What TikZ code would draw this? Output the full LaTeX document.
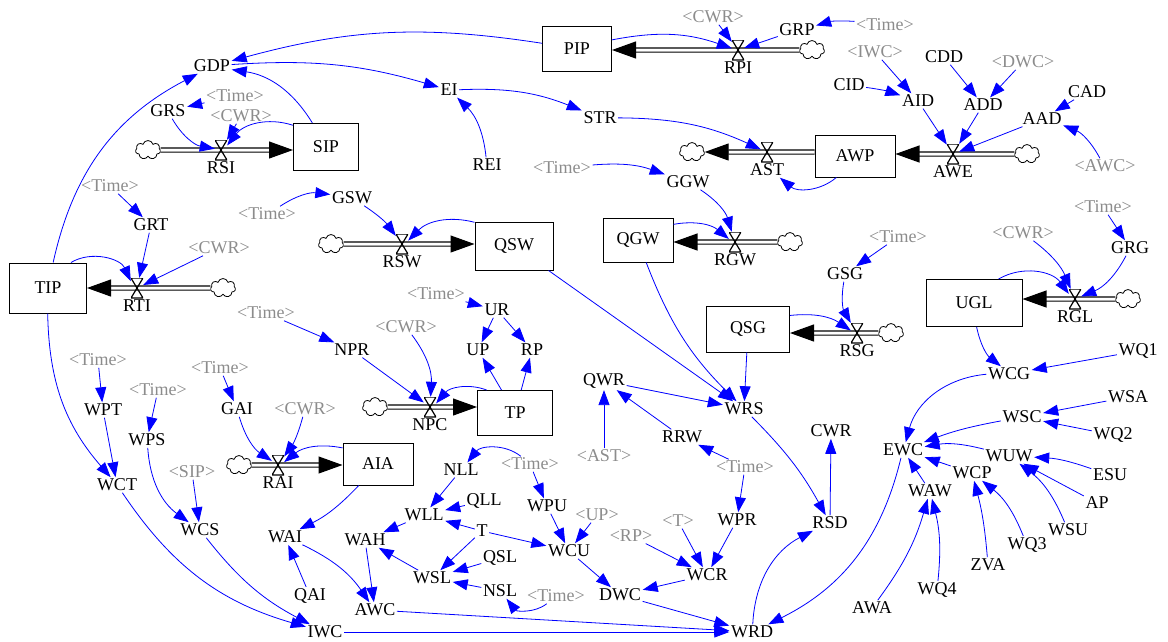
\documentclass[tikz,border=0pt]{standalone}
\usepackage{fontspec}
\setmainfont{Liberation Serif}
\usetikzlibrary{arrows.meta,shapes.symbols,positioning}

\begin{document}
\begin{tikzpicture}[x=1pt,y=1pt,
    font=\fontsize{18}{20}\selectfont,
    var/.style={inner sep=1.5pt},
    shadow/.style={inner sep=1.5pt, text=black!45},
    stock/.style={draw, line width=1pt, inner sep=0pt},
    cloudy/.style={cloud, draw, cloud puffs=7, aspect=1.3, minimum width=25pt, minimum height=19pt, inner sep=0pt, line width=0.8pt},
    valve/.style={inner sep=0pt, minimum width=12pt, minimum height=20pt,
      path picture={\draw[line width=1.2pt] (path picture bounding box.north west) -- (path picture bounding box.north east)
        -- (path picture bounding box.south west) -- (path picture bounding box.south east) -- cycle;}},
    pipe/.style={draw, line width=1.1pt, double=white, double distance=3pt, -{Triangle[length=24pt,width=17pt]}},
    link/.style={draw=blue, line width=0.8pt, -{Triangle[length=15pt,width=11pt]}}]

\useasboundingbox (0,0) rectangle (1168,-641);

% stocks
\node[stock, minimum width=69pt, minimum height=45pt] (pip) at (577,-49) {PIP};
\node[stock, minimum width=65pt, minimum height=47pt] (sip) at (326,-147) {SIP};
\node[stock, minimum width=80pt, minimum height=42pt] (awp) at (855,-156) {AWP};
\node[stock, minimum width=77pt, minimum height=50pt] (tip) at (48,-288) {TIP};
\node[stock, minimum width=78pt, minimum height=48pt] (qsw) at (514,-246) {QSW};
\node[stock, minimum width=70pt, minimum height=44pt] (qgw) at (638,-240) {QGW};
\node[stock, minimum width=83pt, minimum height=46pt] (qsg) at (748,-329) {QSG};
\node[stock, minimum width=96pt, minimum height=47pt] (ugl) at (974,-303) {UGL};
\node[stock, minimum width=75pt, minimum height=45pt] (tp) at (515,-413) {TP};
\node[stock, minimum width=70pt, minimum height=42pt] (aia) at (378,-464) {AIA};

% clouds
\node[cloudy] (cpip) at (812,-50) {};
\node[cloudy] (csip) at (148,-150) {};
\node[cloudy] (cast) at (692,-152) {};
\node[cloudy] (cawe) at (1027,-154) {};
\node[cloudy] (ctip) at (223,-288) {};
\node[cloudy] (cqsw) at (331,-244) {};
\node[cloudy] (cqgw) at (790,-242) {};
\node[cloudy] (cqsg) at (891,-333) {};
\node[cloudy] (cugl) at (1128,-299) {};
\node[cloudy] (caia) at (239,-465) {};
\node[cloudy] (ctp) at (375,-407) {};

% pipes
\draw[pipe] (cpip) -- (cpip -| pip.east);
\draw[pipe] (csip) -- (csip -| sip.west);
\draw[pipe] (cast -| awp.west) -- (cast);
\draw[pipe] (cawe) -- (cawe -| awp.east);
\draw[pipe] (ctip) -- (ctip -| tip.east);
\draw[pipe] (cqsw) -- (cqsw -| qsw.west);
\draw[pipe] (cqgw) -- (cqgw -| qgw.east);
\draw[pipe] (cqsg) -- (cqsg -| qsg.east);
\draw[pipe] (cugl) -- (cugl -| ugl.east);
\draw[pipe] (caia) -- (caia -| aia.west);
\draw[pipe] (ctp) -- (ctp -| tp.west);

% valves
\node[valve] (rpi) at (738,-50) {};
\node[valve] (rsi) at (221,-150) {};
\node[valve] (ast) at (767,-152) {};
\node[valve] (awe) at (953,-154) {};
\node[valve] (rti) at (137,-288) {};
\node[valve] (rsw) at (402,-244) {};
\node[valve] (rgw) at (735,-242) {};
\node[valve] (rsg) at (857,-333) {};
\node[valve] (rgl) at (1075,-299) {};
\node[valve] (rai) at (278,-465) {};
\node[valve] (npc) at (430,-407) {};
\node[var, below=0pt of rpi] (rpi-l) {RPI};
\node[var, below=0pt of rsi] (rsi-l) {RSI};
\node[var, below=0pt of ast] (ast-l) {AST};
\node[var, below=0pt of awe] (awe-l) {AWE};
\node[var, below=0pt of rti] (rti-l) {RTI};
\node[var, below=0pt of rsw] (rsw-l) {RSW};
\node[var, below=0pt of rgw] (rgw-l) {RGW};
\node[var, below=0pt of rsg] (rsg-l) {RSG};
\node[var, below=0pt of rgl] (rgl-l) {RGL};
\node[var, below=0pt of rai] (rai-l) {RAI};
\node[var, below=0pt of npc] (npc-l) {NPC};

% variables
\node[var] (gdp) at (212,-66) {GDP};
\node[var] (grs) at (168,-111) {GRS};
\node[shadow] (timeA) at (235,-96) {<Time>};
\node[shadow] (cwrA) at (241,-116) {<CWR>};
\node[var] (ei) at (449,-90) {EI};
\node[var] (rei) at (487,-165) {REI};
\node[var] (str) at (600,-118) {STR};
\node[shadow] (cwrB) at (713,-17) {<CWR>};
\node[var] (grp) at (797,-30) {GRP};
\node[shadow] (timeB) at (885,-25) {<Time>};
\node[var] (cid) at (849,-85) {CID};
\node[shadow] (iwcA) at (875,-52) {<IWC>};
\node[var] (aid) at (918,-101) {AID};
\node[var] (cdd) at (944,-57) {CDD};
\node[shadow] (dwcA) at (1023,-62) {<DWC>};
\node[var] (add) at (983,-105) {ADD};
\node[var] (cad) at (1087,-92) {CAD};
\node[var] (aad) at (1042,-119) {AAD};
\node[shadow] (awcA) at (1105,-166) {<AWC>};
\node[shadow] (timeC) at (562,-168) {<Time>};
\node[var] (ggw) at (688,-182) {GGW};
\node[shadow] (timeD) at (267,-214) {<Time>};
\node[var] (gsw) at (352,-198) {GSW};
\node[shadow] (timeH) at (110,-186) {<Time>};
\node[var] (grt) at (151,-225) {GRT};
\node[shadow] (cwrF) at (219,-248) {<CWR>};
\node[shadow] (timeG) at (898,-237) {<Time>};
\node[var] (gsg) at (845,-274) {GSG};
\node[shadow] (timeF) at (1103,-207) {<Time>};
\node[var] (grg) at (1130,-248) {GRG};
\node[shadow] (cwrE) at (1023,-233) {<CWR>};
\node[shadow] (timeO) at (436,-294) {<Time>};
\node[var] (ur) at (497,-310) {UR};
\node[var] (up) at (478,-350) {UP};
\node[var] (rp) at (532,-350) {RP};
\node[shadow] (timeN) at (266,-313) {<Time>};
\node[var] (npr) at (352,-350) {NPR};
\node[shadow] (cwrH) at (406,-327) {<CWR>};
\node[shadow] (timeI) at (98,-360) {<Time>};
\node[var] (wpt) at (103,-410) {WPT};
\node[shadow] (timeJ) at (158,-390) {<Time>};
\node[var] (wps) at (147,-440) {WPS};
\node[shadow] (timeK) at (220,-368) {<Time>};
\node[var] (gai) at (237,-409) {GAI};
\node[shadow] (cwrG) at (305,-409) {<CWR>};
\node[var] (wct) at (117,-485) {WCT};
\node[shadow] (sipA) at (192,-472) {<SIP>};
\node[var] (wcs) at (200,-530) {WCS};
\node[var] (iwc) at (325,-632) {IWC};
\node[var] (wai) at (285,-537) {WAI};
\node[var] (qai) at (310,-596) {QAI};
\node[var] (awc) at (375,-610) {AWC};
\node[var] (wah) at (365,-540) {WAH};
\node[var] (wll) at (424,-515) {WLL};
\node[var] (nll) at (461,-470) {NLL};
\node[var] (qll) at (484,-501) {QLL};
\node[var] (tv) at (482,-531) {T};
\node[var] (wsl) at (432,-578) {WSL};
\node[var] (qsl) at (500,-558) {QSL};
\node[var] (nsl) at (500,-591) {NSL};
\node[shadow] (timeM) at (556,-596) {<Time>};
\node[shadow] (timeL) at (530,-464) {<Time>};
\node[var] (wpu) at (547,-506) {WPU};
\node[shadow] (upA) at (597,-515) {<UP>};
\node[var] (wcu) at (569,-551) {WCU};
\node[shadow] (rpA) at (631,-536) {<RP>};
\node[shadow] (tA) at (678,-521) {<T>};
\node[var] (wpr) at (737,-520) {WPR};
\node[shadow] (timeE) at (745,-467) {<Time>};
\node[var] (rrw) at (682,-437) {RRW};
\node[var] (qwr) at (604,-381) {QWR};
\node[shadow] (astA) at (604,-456) {<AST>};
\node[var] (wrs) at (744,-409) {WRS};
\node[var] (wcr) at (707,-575) {WCR};
\node[var] (dwc) at (620,-595) {DWC};
\node[var] (wrd) at (752,-632) {WRD};
\node[var] (rsd) at (830,-523) {RSD};
\node[var] (cwr) at (831,-431) {CWR};
\node[var] (ewc) at (903,-450) {EWC};
\node[var] (wcg) at (1009,-374) {WCG};
\node[var] (wq1) at (1138,-351) {WQ1};
\node[var] (wsa) at (1128,-397) {WSA};
\node[var] (wsc) at (1022,-417) {WSC};
\node[var] (wq2) at (1113,-435) {WQ2};
\node[var] (wuw) at (1009,-456) {WUW};
\node[var] (esu) at (1110,-475) {ESU};
\node[var] (wcp) at (972,-473) {WCP};
\node[var] (waw) at (930,-491) {WAW};
\node[var] (ap) at (1097,-503) {AP};
\node[var] (wsu) at (1068,-530) {WSU};
\node[var] (wq3) at (1027,-545) {WQ3};
\node[var] (zva) at (988,-565) {ZVA};
\node[var] (wq4) at (937,-590) {WQ4};
\node[var] (awa) at (872,-608) {AWA};

% links
\draw[link] (pip) to[bend right=12] (gdp);
\draw[link] (gdp) to[bend left=10] (ei);
\draw[link] (tip) to[bend left=25] (gdp);
\draw[link] (sip) to[bend right=25] (gdp);
\draw[link] (grs) to[bend right=25] (rsi);
\draw[link] (sip) to[bend right=35] (rsi);
\draw[link] (timeA) -- (grs);
\draw[link] (cwrA) -- (rsi);
\draw[link] (rei) to[bend right=20] (ei);
\draw[link] (ei) to[bend left=12] (str);
\draw[link] (str) to[bend left=12] (ast);
\draw[link] (pip) to[bend left=15] (rpi);
\draw[link] (cwrB) -- (rpi);
\draw[link] (grp) -- (rpi);
\draw[link] (timeB) to[bend right=10] (grp);
\draw[link] (awp) to[bend left=40] (ast-l);
\draw[link] (cid) to[bend left=5] (aid);
\draw[link] (iwcA) -- (aid);
\draw[link] (cdd) -- (add);
\draw[link] (dwcA) -- (add);
\draw[link] (aid) -- (awe);
\draw[link] (add) -- (awe);
\draw[link] (aad) -- (awe);
\draw[link] (cad) -- (aad);
\draw[link] (awcA) to[bend right=20] (aad);
\draw[link] (timeC) to[bend left=12] (ggw);
\draw[link] (ggw) to[bend left=20] (rgw);
\draw[link] (qgw) to[bend left=25] (rgw);
\draw[link] (timeD) to[bend left=20] (gsw);
\draw[link] (gsw) to[bend left=10] (rsw);
\draw[link] (qsw) to[bend right=30] (rsw);
\draw[link] (qsw) -- (wrs);
\draw[link] (qgw) to[bend right=12] (wrs);
\draw[link] (qsg) -- (wrs);
\draw[link] (qwr) -- (wrs);
\draw[link] (astA) -- (qwr);
\draw[link] (rrw) -- (qwr);
\draw[link] (timeE) -- (rrw);
\draw[link] (timeE) -- (wpr);
\draw[link] (wpr) -- (wcr);
\draw[link] (tA) -- (wcr);
\draw[link] (rpA) -- (wcr);
\draw[link] (wcr) -- (dwc);
\draw[link] (dwc) -- (wrd);
\draw[link] (awc) -- (wrd);
\draw[link] (iwc) -- (wrd);
\draw[link] (wrs) to[bend left=8] (rsd);
\draw[link] (wrd) to[bend left=30] (rsd);
\draw[link] (rsd) -- (cwr);
\draw[link] (ewc) to[bend left=25] (wrd);
\draw[link] (wcg) to[bend right=35] (ewc);
\draw[link] (wq1) -- (wcg);
\draw[link] (wsa) -- (wsc);
\draw[link] (wq2) -- (wsc);
\draw[link] (wsc) to[bend right=5] (ewc);
\draw[link] (wuw) to[bend right=12] (ewc);
\draw[link] (esu) to[bend right=8] (wuw);
\draw[link] (ap) -- (wuw);
\draw[link] (wsu) to[bend right=15] (wuw);
\draw[link] (wq3) to[bend right=15] (wcp);
\draw[link] (zva) to[bend right=5] (wcp);
\draw[link] (wcp) -- (ewc);
\draw[link] (waw) -- (ewc);
\draw[link] (wq4) to[bend right=10] (waw);
\draw[link] (awa) to[bend right=10] (waw);
\draw[link] (ugl) to[bend right=20] (wcg);
\draw[link] (ugl) to[bend left=42] (rgl);
\draw[link] (cwrE) to[bend left=15] (rgl);
\draw[link] (grg) to[bend left=20] (rgl);
\draw[link] (timeF) -- (grg);
\draw[link] (timeG) -- (gsg);
\draw[link] (gsg) to[bend right=20] (rsg);
\draw[link] (qsg) to[bend left=20] (rsg);
\draw[link] (tip) to[bend left=48] (rti);
\draw[link] (grt) -- (rti);
\draw[link] (cwrF) -- (rti);
\draw[link] (timeH) -- (grt);
\draw[link] (tip) to[bend right=20] (wct);
\draw[link] (timeI) -- (wpt);
\draw[link] (wpt) -- (wct);
\draw[link] (timeJ) -- (wps);
\draw[link] (wps) to[bend right=25] (wcs);
\draw[link] (sipA) -- (wcs);
\draw[link] (wct) to[bend right=20] (iwc);
\draw[link] (wcs) to[bend right=12] (iwc);
\draw[link] (timeK) -- (gai);
\draw[link] (gai) to[bend right=20] (rai);
\draw[link] (cwrG) to[bend left=10] (rai);
\draw[link] (aia) to[bend right=25] (rai);
\draw[link] (aia) to[bend left=10] (wai);
\draw[link] (wai) to[bend left=15] (awc);
\draw[link] (qai) -- (wai);
\draw[link] (wah) -- (awc);
\draw[link] (wll) -- (wah);
\draw[link] (wsl) -- (wah);
\draw[link] (nll) -- (wll);
\draw[link] (qll) -- (wll);
\draw[link] (tv) -- (wll);
\draw[link] (tv) -- (wcu);
\draw[link] (tv) -- (wsl);
\draw[link] (qsl) -- (wsl);
\draw[link] (nsl) -- (wsl);
\draw[link] (timeL) to[bend right=45] (nll);
\draw[link] (timeL) -- (wpu);
\draw[link] (wpu) -- (wcu);
\draw[link] (upA) -- (wcu);
\draw[link] (wcu) -- (dwc);
\draw[link] (timeM) to[bend left=45] (nsl);
\draw[link] (timeN) -- (npr);
\draw[link] (npr) -- (npc);
\draw[link] (cwrH) to[bend left=20] (npc);
\draw[link] (tp) to[bend right=35] (npc);
\draw[link] (tp) -- (up);
\draw[link] (tp) -- (rp);
\draw[link] (ur) -- (up);
\draw[link] (ur) -- (rp);
\draw[link] (timeO) -- (ur);
\end{tikzpicture}
\end{document}
